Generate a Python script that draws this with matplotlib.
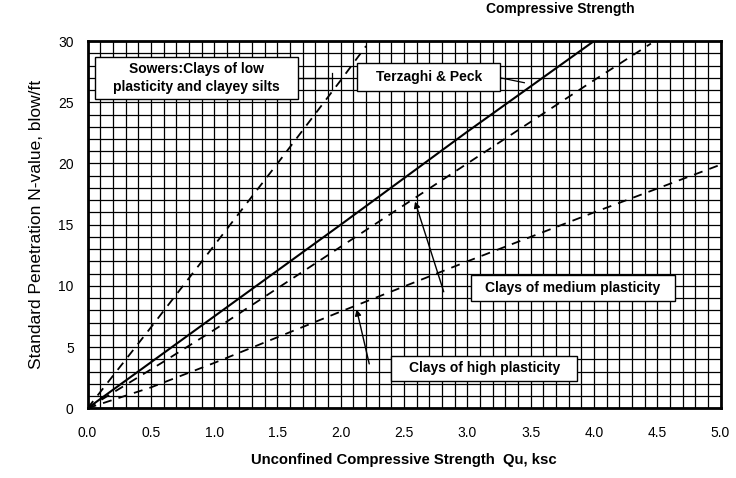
import matplotlib
matplotlib.use("Agg")
import matplotlib.pyplot as plt
from matplotlib.patches import Rectangle

plt.rcParams['font.family'] = ['Liberation Sans', 'DejaVu Sans']

# ---- data ----
qu_terzaghi = [0.0, 1.0, 2.0, 3.0, 4.0]
n_terzaghi = [0.0, 7.5, 15.0, 22.6, 30.0]

qu_low = [0.0, 0.5, 1.0, 1.5, 2.0, 2.2]
n_low = [0.0, 6.6, 13.3, 20.0, 26.8, 29.6]

qu_medium = [0.0, 0.6, 1.0, 2.0, 3.0, 4.0, 4.45]
n_medium = [0.0, 3.8, 6.4, 13.2, 20.0, 26.8, 29.8]

qu_high = [0.0, 0.5, 1.0, 1.5, 2.0, 3.0, 4.0, 5.0]
n_high = [0.0, 1.7, 3.7, 5.8, 7.9, 12.0, 16.0, 19.9]

x_ticks = [0.0, 0.5, 1.0, 1.5, 2.0, 2.5, 3.0, 3.5, 4.0, 4.5, 5.0]
x_tick_labels = ["0.0", "0.5", "1.0", "1.5", "2.0", "2.5", "3.0", "3.5", "4.0", "4.5", "5.0"]
y_ticks = [0, 5, 10, 15, 20, 25, 30]

label_low = "Sowers:Clays of low\nplasticity and clayey silts"
label_terzaghi = "Terzaghi & Peck"
label_medium = "Clays of medium plasticity"
label_high = "Clays of high plasticity"
x_label = "Unconfined Compressive Strength  Qu, ksc"
y_label = "Standard Penetration N-value, blow/ft"
title_text = "Compressive Strength"

# ---- figure ----
fig = plt.figure(figsize=(7.36, 4.78), dpi=100)
ax = fig.add_axes([0.119, 0.146, 0.860, 0.768])
ax.set_xlim(0, 5)
ax.set_ylim(0, 30)

ax.set_xticks(x_ticks)
ax.set_xticklabels(x_tick_labels)
ax.set_yticks(y_ticks)
ax.set_xticks([i / 10 for i in range(51)], minor=True)
ax.set_yticks(list(range(31)), minor=True)
ax.tick_params(which='both', length=0)
ax.tick_params(axis='x', pad=13, labelsize=10)
ax.tick_params(axis='y', pad=10, labelsize=10)
ax.grid(which='both', color='black', linewidth=0.9)
ax.set_axisbelow(True)
for s in ax.spines.values():
    s.set_linewidth(2.0)

dash = (0, (5, 4))
ax.plot(qu_terzaghi, n_terzaghi, color='black', lw=1.5, zorder=3)
ax.plot(qu_low, n_low, color='black', lw=1.3, ls=dash, zorder=3)
ax.plot(qu_medium, n_medium, color='black', lw=1.3, ls=dash, zorder=3)
ax.plot(qu_high, n_high, color='black', lw=1.3, ls=dash, zorder=3)

def box(x0, y0, w, h, text):
    ax.add_patch(Rectangle((x0, y0), w, h, facecolor='white', edgecolor='black',
                           lw=1.0, zorder=5))
    ax.text(x0 + w / 2, y0 + h / 2, text, ha='center', va='center',
            fontsize=10, fontweight='bold', zorder=6, linespacing=1.4)

box(0.06, 25.3, 1.60, 3.4, label_low)
box(2.13, 25.9, 1.13, 2.3, label_terzaghi)
box(3.03, 8.75, 1.61, 2.1, label_medium)
box(2.40, 2.2, 1.47, 2.1, label_high)

# leaders
ax.plot([1.66, 1.93], [27.0, 27.0], color='black', lw=0.9, zorder=4)
ax.plot([1.93, 1.93], [26.0, 27.4], color='black', lw=0.9, zorder=4)
ax.plot([3.26, 3.45], [27.0, 26.6], color='black', lw=0.9, zorder=4)

arrow = dict(arrowstyle='-|>', color='black', lw=1.0, mutation_scale=9)
ax.annotate('', xy=(2.58, 17.1), xytext=(2.82, 9.3), arrowprops=arrow, zorder=4)
ax.annotate('', xy=(2.12, 8.3), xytext=(2.23, 3.4), arrowprops=arrow, zorder=4)

ax.set_xlabel(x_label, fontsize=10.7, fontweight='bold', labelpad=9)
ax.set_ylabel(y_label, fontsize=12.5, labelpad=10)

fig.text(0.862, 0.982, title_text, ha='right', va='center', fontsize=10, fontweight='bold')

fig.savefig("out.png", dpi=100)
